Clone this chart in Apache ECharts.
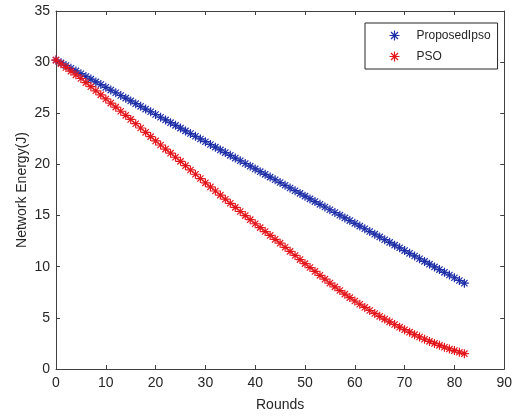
<!DOCTYPE html>
<html style="height: 100%; margin: 0;">
<head>
    <meta charset="utf-8" />
    <title></title>
    <script src="https://cdn.jsdelivr.net/npm/echarts@6/dist/echarts.min.js"></script>
</head>
<body style="height: 100%; margin: 0; background: #fff;">
<div id="main" style="width: 515px; height: 417px;"></div>
<script type="text/javascript">
    // rounds 0..82
    var rounds = [];
    for (var r = 0; r <= 82; r++) rounds.push(r);

    var proposedIpso = [30.20, 29.93, 29.67, 29.40, 29.14, 28.87, 28.60, 28.34, 28.07, 27.81,
        27.54, 27.27, 27.01, 26.74, 26.48, 26.21, 25.94, 25.68, 25.41, 25.15,
        24.88, 24.61, 24.35, 24.08, 23.82, 23.55, 23.28, 23.02, 22.75, 22.49,
        22.22, 21.95, 21.69, 21.42, 21.16, 20.89, 20.62, 20.36, 20.09, 19.83,
        19.56, 19.29, 19.03, 18.76, 18.50, 18.23, 17.96, 17.70, 17.43, 17.17,
        16.90, 16.63, 16.37, 16.10, 15.84, 15.57, 15.30, 15.04, 14.77, 14.51,
        14.24, 13.97, 13.71, 13.44, 13.18, 12.91, 12.64, 12.38, 12.11, 11.85,
        11.58, 11.31, 11.05, 10.78, 10.52, 10.25, 9.98, 9.72, 9.45, 9.19,
        8.92, 8.65, 8.39];

    var pso = [30.20, 29.84, 29.48, 29.12, 28.76, 28.40, 28.00, 27.60, 27.20, 26.80,
        26.40, 26.00, 25.60, 25.20, 24.80, 24.40, 23.98, 23.56, 23.14, 22.72,
        22.30, 21.90, 21.50, 21.10, 20.70, 20.30, 19.88, 19.46, 19.04, 18.62,
        18.20, 17.80, 17.40, 17.00, 16.60, 16.20, 15.80, 15.40, 15.00, 14.60,
        14.20, 13.82, 13.44, 13.06, 12.68, 12.30, 11.90, 11.50, 11.10, 10.70,
        10.30, 9.92, 9.54, 9.16, 8.78, 8.40, 8.03, 7.67, 7.32, 6.98,
        6.65, 6.33, 6.02, 5.72, 5.43, 5.15, 4.88, 4.61, 4.35, 4.09,
        3.84, 3.60, 3.36, 3.13, 2.91, 2.70, 2.50, 2.31, 2.13, 1.96,
        1.80, 1.64, 1.50];

    var seriesNames = ['ProposedIpso', 'PSO'];
    var seriesColors = ['#1f2fa8', '#e3161c'];

    function pairs(xs, ys) {
        var out = [];
        for (var i = 0; i < xs.length; i++) out.push([xs[i], ys[i]]);
        return out;
    }

    var star = 'path://M5 0L5 10M0 5L10 5M1.5 1.5L8.5 8.5M8.5 1.5L1.5 8.5';
    var font = 'Liberation Sans, Arial, sans-serif';
    var axisColor = '#404040';

    function xAx(pos, showLabel) {
        return {
            type: 'value', position: pos, min: 0, max: 90, interval: 10,
            name: showLabel ? 'Rounds' : '', nameLocation: 'middle', nameGap: 29, nameMoveOverlap: false,
            nameTextStyle: { color: '#262626', fontSize: 14, fontFamily: font },
            axisLine: { show: true, onZero: false, lineStyle: { color: axisColor, width: 1 } },
            axisTick: { show: true, inside: true, length: 4, lineStyle: { color: axisColor } },
            axisLabel: { show: showLabel, color: '#262626', fontSize: 14, fontFamily: font, margin: 7 },
            splitLine: { show: false }
        };
    }
    function yAx(pos, showLabel) {
        return {
            type: 'value', position: pos, min: 0, max: 35, interval: 5,
            name: showLabel ? 'Network Energy(J)' : '', nameLocation: 'middle', nameGap: 27, nameMoveOverlap: false,
            nameTextStyle: { color: '#262626', fontSize: 14, fontFamily: font },
            axisLine: { show: true, onZero: false, lineStyle: { color: axisColor, width: 1 } },
            axisTick: { show: true, inside: true, length: 4, lineStyle: { color: axisColor } },
            axisLabel: { show: showLabel, color: '#262626', fontSize: 14, fontFamily: font, margin: 6 },
            splitLine: { show: false }
        };
    }

    var myChart = echarts.init(document.getElementById('main'));
    myChart.setOption({
        backgroundColor: '#ffffff',
        animation: false,
        grid: { left: 56, right: 8, top: 11, bottom: 48 },
        xAxis: [xAx('bottom', true), xAx('top', false)],
        yAxis: [yAx('left', true), yAx('right', false)],
        legend: {
            orient: 'vertical', left: 365, top: 23,
            padding: [5, 7, 5, 22], itemGap: 6, itemWidth: 10, itemHeight: 10,
            borderColor: '#262626', borderWidth: 1, backgroundColor: '#fff',
            textStyle: { color: '#262626', fontSize: 12, fontFamily: font, padding: [0, 0, 0, 12] },
            data: [
                { name: seriesNames[0], icon: star, itemStyle: { color: 'none', borderColor: seriesColors[0], borderWidth: 1.2 } },
                { name: seriesNames[1], icon: star, itemStyle: { color: 'none', borderColor: seriesColors[1], borderWidth: 1.2 } }
            ]
        },
        series: [
            {
                name: seriesNames[0], type: 'scatter', symbol: star, symbolSize: 9,
                itemStyle: { color: 'none', borderColor: seriesColors[0], borderWidth: 1.2, opacity: 1 },
                data: pairs(rounds, proposedIpso)
            },
            {
                name: seriesNames[1], type: 'scatter', symbol: star, symbolSize: 9,
                itemStyle: { color: 'none', borderColor: seriesColors[1], borderWidth: 1.2, opacity: 1 },
                data: pairs(rounds, pso)
            }
        ]
    });
    window.onresize = myChart.resize;
</script>
</body>
</html>
